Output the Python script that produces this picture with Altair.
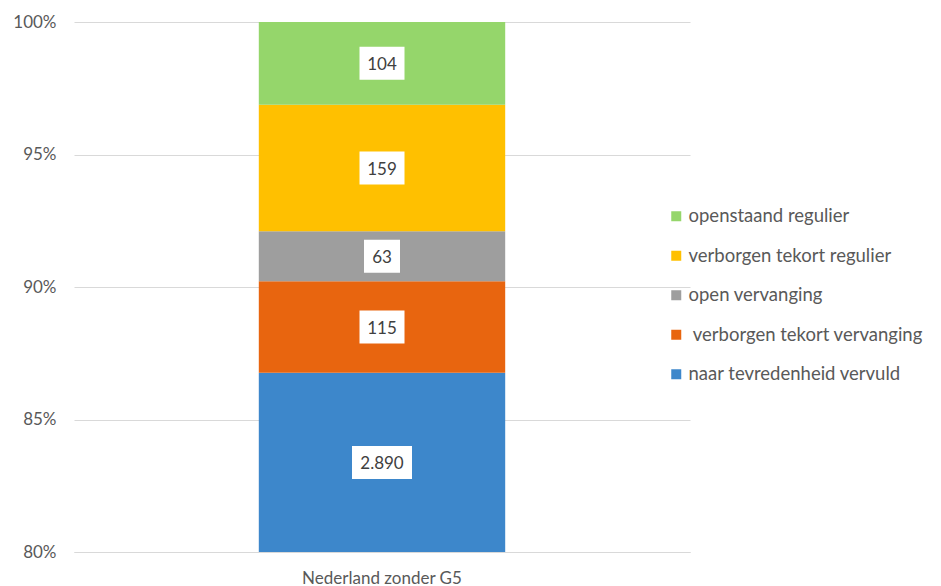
import altair as alt
import pandas as pd

category = ["Nederland zonder G5"] * 5
series = [
    "naar tevredenheid vervuld",
    "\u200b verborgen tekort vervanging",
    "open vervanging",
    "verborgen tekort regulier",
    "openstaand regulier",
]
values = [2890, 115, 63, 159, 104]
stack_order = [1, 2, 3, 4, 5]
colors = ["#3D87CB", "#E8650F", "#9E9E9E", "#FFC000", "#95D66B"]

legend_order = series[::-1]
color_range = colors[::-1]

df = pd.DataFrame({"cat": category, "serie": series, "v": values, "o": stack_order})

FONT = "Lato"
GRAY = "#595959"

base = alt.Chart(df)

bars = base.mark_bar(clip=True, stroke=None).encode(
    x=alt.X("cat:N", title=None,
            scale=alt.Scale(paddingInner=0.6, paddingOuter=0.3),
            axis=alt.Axis(labelAngle=0, labelFont=FONT, labelFontSize=17, labelColor=GRAY,
                          labelPadding=18, labelBaseline="top", ticks=False,
                          domainColor="#D9D9D9", domainWidth=1)),
    y=alt.Y("v:Q", stack="normalize", title=None,
            scale=alt.Scale(domain=[0.8, 1.0], nice=False),
            axis=alt.Axis(values=[0.8, 0.85, 0.9, 0.95, 1.0], format=".0%", labelFont=FONT,
                          labelFontSize=17, labelColor=GRAY, labelPadding=18, ticks=False,
                          domain=False, gridColor="#D9D9D9", gridWidth=1)),
    color=alt.Color("serie:N", scale=alt.Scale(domain=legend_order, range=color_range),
                    legend=alt.Legend(title=None, orient="none", legendX=593, legendY=185,
                                      symbolType="square", symbolSize=100, symbolStrokeWidth=0,
                                      labelFont=FONT, labelFontSize=18.5, labelColor=GRAY,
                                      labelLimit=0, rowPadding=20.5, labelOffset=3)),
    order=alt.Order("o:Q", sort="ascending"),
)

lab = base.transform_joinaggregate(total="sum(v)").transform_window(
    cum="sum(v)", sort=[alt.SortField("o", order="ascending")], frame=[None, 0]
).transform_calculate(
    upper="datum.cum / datum.total",
    lower="(datum.cum - datum.v) / datum.total",
).transform_calculate(
    mid="(max(datum.lower, 0.8) + datum.upper) / 2",
    label="replace(format(datum.v, ','), ',', '.')",
).transform_calculate(
    n="length(datum.label)"
)

box_enc = dict(x=alt.X("cat:N"), y=alt.Y("mid:Q"))
box2 = lab.transform_filter("datum.n == 2").mark_rect(color="white", width=36, height=33).encode(**box_enc)
box3 = lab.transform_filter("datum.n == 3").mark_rect(color="white", width=45, height=33).encode(**box_enc)
box5 = lab.transform_filter("datum.n == 5").mark_rect(color="white", width=60, height=33).encode(**box_enc)

texts = lab.mark_text(font=FONT, fontSize=17, color="#404040", baseline="middle", dy=2).encode(
    x=alt.X("cat:N"), y=alt.Y("mid:Q"), text="label:N"
)

chart = alt.layer(bars, box2, box3, box5, texts).properties(
    width=616, height=530,
    padding={"left": 66, "top": 14, "right": 243, "bottom": 40},
    autosize=alt.AutoSizeParams(type="none"),
).configure_view(stroke=None)

chart.save("out.html", embed_options={"renderer": "svg", "actions": False})
